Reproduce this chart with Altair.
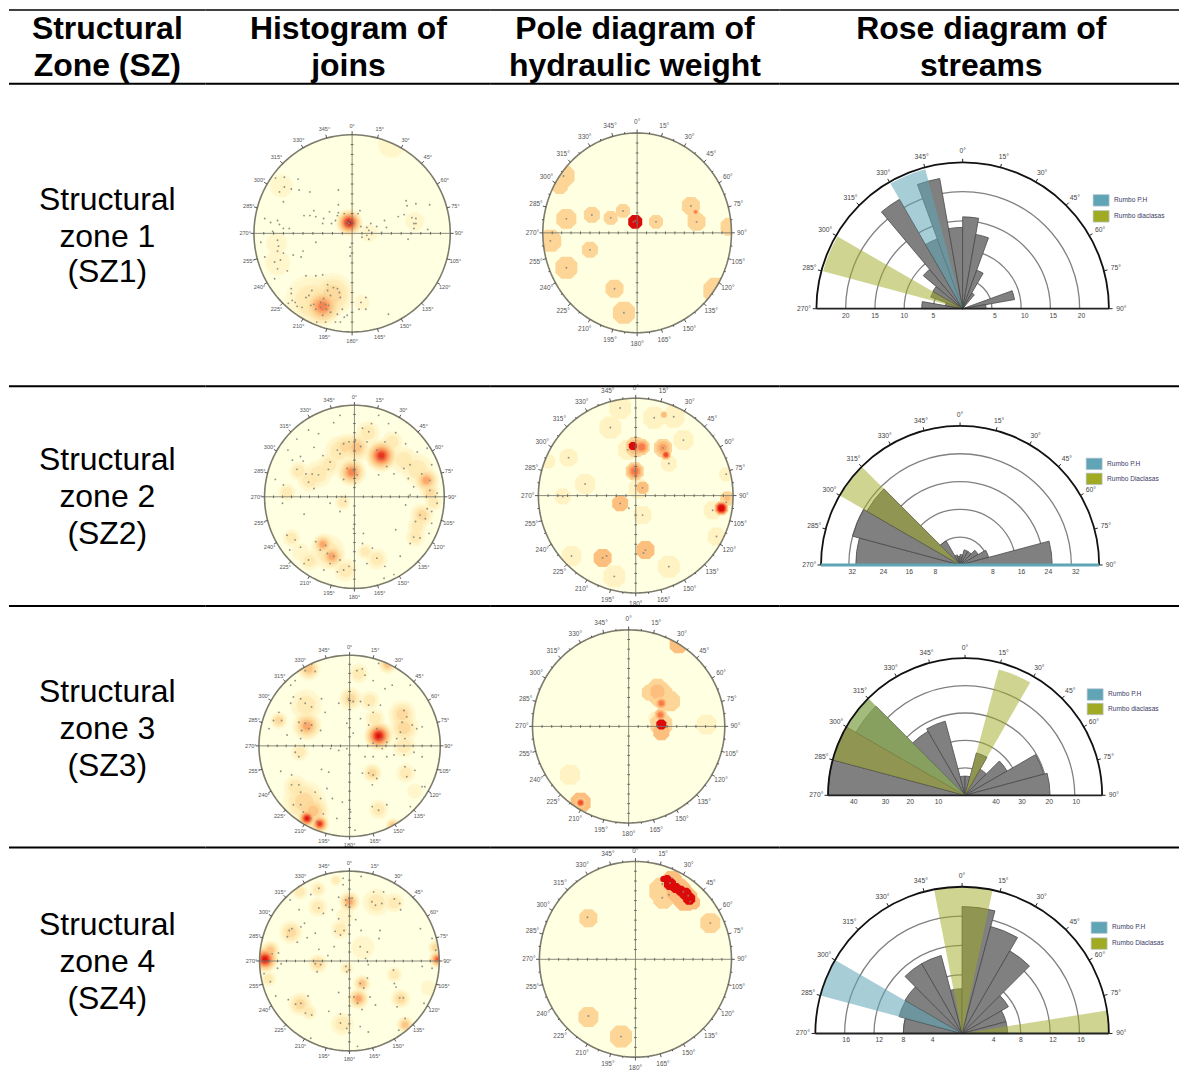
import math
import altair as alt
import pandas as pd

FONT = "Liberation Sans"
COL_X = [8, 205, 490, 780]
COL_W = [197, 285, 290, 400]
ROW_Y = [8, 83, 386, 606, 848]
ROW_H = [75, 303, 220, 242, 214]

HEADERS = [["Structural", "Zone (SZ)"], ["Histogram of", "joins"],
           ["Pole diagram of", "hydraulic weight"], ["Rose diagram of", "streams"]]
HEADER_CX = [106.5, 348, 635, 982]
HEADER_Y = [28, 65]
ROW_TEXT = [["Structural", "zone 1", "(SZ1)"], ["Structural", "zone 2", "(SZ2)"],
            ["Structural", "zone 3", "(SZ3)"], ["Structural", "zone 4", "(SZ4)"]]
ROW_TEXT_Y = [[199, 236, 272], [460, 497, 534], [692, 729, 766], [926, 963, 1000]]

RAMP = ["#fff3c4", "#fee7ad", "#fdd597", "#fcbf7e", "#fb9f63", "#f77a47", "#ee4f2e", "#e32a1a", "#dd0a0a"]
OCT = "M-1,-0.45L-0.45,-1L0.45,-1L1,-0.45L1,0.45L0.45,1L-0.45,1L-1,0.45Z"

# ---- stereonet data: (east %, north %) of the net radius ----
H1_DOTS = [(-69,57),(-78,56),(-55,55),(-69,47),(-62,45),(-54,44),(-74,42),(-43,42),(-14,44),(-70,32),(-49,18),(-43,18),(-39,23),(-37,17),(-89,15),(-83,11),(-76,13),(-74,9),(-70,5),(-64,5),(-81,2),(-23,22),(-14,29),(-14,21),(-30,10),(-29,15),(-21,10),(-17,13),(-15,18),(-8,20),(8,23),(6,20),(-6,12),(-3,10),(-5,9),(-2,13),(-4,11),
           (9,7),(15,6),(19,10),(25,7),(33,13),(35,6),(30,1),(17,3),(15,-2),(10,-4),(17,-6),(20,1),(55,33),(56,28),(65,30),(79,29),(47,17),(53,19),(61,16),(65,15),(63,10),(65,10),(63,5),(77,4),(57,-6),
           (-93,-9),(-76,-7),(-75,-13),(-76,-18),(-70,-20),(-89,-24),(-79,-29),(-73,-27),(-60,-22),(-52,-24),(-50,-18),(-37,-9),(-76,-36),(-66,-38),(-79,-46),(-47,-43),(-37,-43),(-30,-42),(-2,-14),(-2,-23),
           (-62,-56),(-62,-61),(-61,-68),(-65,-71),(-58,-70),(-56,-74),(-51,-75),(-47,-65),(-44,-63),(-41,-58),(-42,-73),(-39,-72),(-37,-77),(-32,-70),(-32,-75),(-29,-66),(-27,-72),(-26,-77),(-24,-73),(-22,-80),(-25,-52),(-25,-58),(-19,-55),(-15,-56),(-13,-60),(-22,-63),(-12,-65),(-10,-77),(-15,-82),(-30,-83),(-27,-90),(-17,-90),(-12,-90),(-8,-85),(-5,-83),(-36,-90),(14,-65),(7,-77),(14,-77),(9,-70),(37,-82)]
H1_BLOBS = [(-3,11,14,9),(-30,-74,20,6),(-42,-68,26,2),(-20,-62,22,3),(-35,-72,14,4),(-72,48,12,1),(-77,-10,11,1),(-76,-30,13,1),(64,12,10,1),(17,0,9,1),(10,-70,8,1),(40,90,14,1)]

H2_DOTS = [(-16,89),(-23,81),(-40,69),(-51,73),(-64,63),(-45,54),(-74,51),(-69,40),(-60,44),(-57,39),(-64,30),(-54,25),(-47,25),(-40,24),(-51,16),(-45,9),(-88,19),(-79,13),(-80,0),(-80,-7),(-35,45),(-27,38),(-29,30),(-19,51),(-12,58),(-6,60),(1,62),(7,55),(14,60),(9,75),(16,71),(19,80),(27,89),(38,80),(46,70),(34,60),(25,51),(29,42),(36,33),(-16,47),(-1,29),(3,24),(-8,31),(-12,19),(1,15),
           (27,24),(44,25),(55,31),(62,35),(57,58),(70,49),(81,53),(86,35),(75,25),(84,18),(84,7),(92,4),(66,11),(60,20),(62,2),(-14,0),(-10,-5),(-27,-7),(-16,-16),(-56,-19),(81,-13),(86,-16),(92,-7),(73,-20),(79,-24),(68,-27),(86,-29),(66,-44),(73,-45),(83,-40),(62,-51),(57,-9),(46,-36),
           (-75,-42),(-66,-47),(-72,-58),(-60,-55),(-51,-69),(-56,-73),(-43,-49),(-38,-58),(-32,-53),(-30,-62),(-23,-65),(-16,-69),(-27,-73),(-19,-82),(-12,-80),(-34,-80),(-6,-76),(9,-51),(20,-56),(25,-67),(14,-73),(34,-76),(44,-85),(33,-89),(51,-65),(-1,-35),(10,-40)]
H2_BLOBS = [(-3,27,15,6),(30,45,17,8),(2,54,15,4),(-10,55,13,3),(-17,50,15,2),(15,70,12,2),(-40,25,14,2),(-50,18,12,2),(-28,35,12,2),(-62,28,10,2),(-75,5,9,2),(-13,-6,8,2),(80,18,13,5),(84,5,10,3),(70,30,16,2),(55,40,14,2),(42,60,11,2),(88,-6,9,2),(75,-20,12,3),(70,-32,10,2),(68,-44,10,2),(-35,-52,11,5),(-25,-65,13,5),(-30,-60,18,2),(-50,-70,10,2),(-70,-45,9,2),(-60,-60,9,1),(-10,-80,12,2),(25,-68,11,2),(12,-60,8,2)]

H3_DOTS = [(-42,90),(-49,83),(-38,82),(-60,72),(-65,67),(-73,69),(-62,54),(-54,52),(-49,47),(-65,47),(-42,43),(-31,52),(-27,37),(-78,37),(-84,28),(-75,28),(-89,19),(-56,26),(-49,25),(-45,19),(-53,17),(-42,23),(-32,17),(-69,12),(-54,8),(-60,-7),(-56,-12),(-21,-3),(-12,-5),(-3,-3),
           (8,83),(14,85),(17,78),(32,91),(26,72),(39,63),(47,67),(67,67),(-12,47),(-1,52),(4,49),(12,49),(21,45),(26,37),(34,45),(-3,25),(12,30),(4,14),(21,23),(30,19),(34,8),(26,3),(41,4),(36,-3),(52,8),(56,15),(60,39),(63,32),(58,26),(69,23),(61,8),(74,19),(80,21),(71,-7),(80,-12),(60,-10),(49,-10),(17,-12),(26,-12),(41,-12),
           (21,-30),(26,-32),(30,-36),(14,-30),(25,-43),(61,-23),(63,-34),(72,-27),(80,-45),(83,-45),(25,-67),(32,-71),(41,-65),(67,-67),(1,-73),(6,-93),(-76,-28),(-64,-32),(-31,-26),(-23,-29),
           (-56,-43),(-64,-43),(-54,-51),(-62,-65),(-54,-65),(-51,-73),(-43,-80),(-38,-51),(-32,-58),(-25,-47),(-19,-58),(-14,-80),(-29,-75),(-36,-84),(-8,-62)]
H3_BLOBS = [(32,11,15,9),(-47,22,15,5),(-78,28,9,3),(-48,45,16,2),(60,20,15,3),(58,35,14,3),(60,0,12,2),(25,-30,10,3),(-47,-80,10,9),(-33,-86,10,8),(-50,-62,22,3),(-60,-45,12,2),(-45,85,12,4),(42,90,10,4),(48,-88,8,4),(1,52,12,3),(10,80,10,2),(62,-30,10,2),(32,-70,10,2),(-55,-7,9,2),(72,-50,8,1),(22,50,10,2),(28,30,10,2),(-40,-72,16,4)]

H4_DOTS = [(13,94),(-7,92),(-7,85),(-34,81),(-43,74),(-66,68),(-56,57),(-34,59),(-29,53),(-19,57),(-12,71),(-4,68),(3,70),(-4,62),(7,46),(-12,47),(25,66),(29,62),(36,64),(27,77),(38,77),(50,69),(56,64),(57,57),(79,36),
           (-67,34),(-64,36),(-69,27),(-54,38),(-50,42),(-47,26),(-38,31),(-58,21),(-16,33),(-6,34),(-10,29),(13,34),(34,34),(33,25),(-17,16),(-34,13),(-24,6),(20,10),(18,3),(12,16),(-86,8),(-79,9),(-80,-8),(-76,-3),(-95,-14),(-88,-23),(-38,-3),(-36,-12),(-32,-4),(-4,-6),(-3,-12),(21,-4),(49,-10),(81,-6),(92,25),(96,12),(92,-8),
           (-82,-39),(-68,-43),(-60,-48),(-54,-47),(-49,-58),(-42,-60),(-46,-39),(-23,-56),(-12,-35),(-10,-59),(-10,-69),(-3,-75),(12,-25),(16,-30),(20,-19),(5,-40),(9,-47),(14,-54),(23,-40),(29,-49),(12,-73),(21,-79),(50,-25),(56,-41),(60,-41),(52,-29),(53,-51),(62,-64),(55,-77),(83,-47),(-43,-86),(9,-95)]
H4_BLOBS = [(-94,2,14,9),(-88,12,10,4),(98,2,9,7),(96,15,8,3),(0,66,11,5),(-35,-3,10,3),(-65,32,12,3),(10,-42,11,5),(14,-25,9,4),(62,-71,9,4),(57,-42,10,3),(-55,-48,12,3),(-45,-57,8,2),(30,65,14,2),(50,65,10,2),(-10,35,10,2),(-8,-70,12,2),(-55,77,8,2),(-35,80,8,2),(-15,90,6,2),(15,15,12,1),(-35,60,10,2),(50,-15,8,2),(-3,-8,7,2),(-90,-20,8,2),(88,-30,8,1),(-5,50,9,1)]

P1_DOTS = [(-78,57),(-75,14),(-48,18),(-28,15),(-15,22),(-4,11),(-2,12),(20,11),(57,27),(63,11),(-92,-8),(-50,-17),(-75,-35),(-24,-56),(-14,-80)]
P1_BLOBS = [(-78,57,11,2),(-82,47,8,2),(-75,14,10,2),(-48,18,8,2),(-28,15,7,2),(-15,22,7,2),(20,11,7,2),(57,27,9,2),(60,18,6,2),(63,11,9,2),(-92,-8,11,2),(-50,-17,8,2),(-75,-35,11,2),(-24,-56,9,2),(-14,-80,11,2),(84,-58,13,2),(98,6,9,2),(-2,11,7,10),(62,21,3,6)]

P2_DOTS = [(-16,90),(-26,70),(19,80),(39,81),(49,57),(-69,39),(-52,12),(-75,-1),(93,22),(-66,-62),(-22,-83),(34,-73),(7,-20),(83,-42),(79,-15),(-34,-64),(-30,-62),(10,-56),(8,-59),(-16,-8),(7,8),(-1,25),(-8,47),(28,49),(34,33),(93,-7),(-7,-13)]
P2_BLOBS = [(-16,90,11,1),(-26,70,11,1),(19,80,11,1),(39,81,11,1),(49,57,10,1),(-69,39,9,1),(-52,12,10,1),(-75,-1,8,1),(-90,35,7,1),(93,22,7,1),(-66,-62,10,1),(-22,-83,11,1),(34,-73,11,1),(7,-20,9,1),(83,-42,9,1),(79,-15,9,1),(29,83,3,3),(-8,47,10,1),(34,33,8,1),(3,7,10,1),
            (-34,-64,9,3),(10,-56,9,3),(-16,-8,8,3),(7,8,6,3),(-1,25,9,6),(0,50,10,5),(-3,51,4,10),(6,50,8,6),(28,49,9,5),(31,42,5,7),(88,-13,7,9),(94,-3,7,4)]

P3_DOTS = []
P3_BLOBS = [(81,2,10,1),(33,33,12,2),(43,26,10,2),(22,35,8,2),(30,40,9,2),(30,36,7,3),(34,24,6,6),(33,12,6,6),(34,2,11,4),(34,2,5,10),(34,-6,8,3),(-61,-50,10,1),(-50,-79,10,3),(-50,-79,5,7),(52,85,9,3),(28,8,7,1)]

P4_DOTS = [(28,77),(38,83),(36,78),(28,63),(35,66),(50,69),(55,65),(57,59),(78,37),(-50,43),(-49,-58),(-15,-79)]
P4_BLOBS = [(28,70,13,2),(29,62,10,2),(38,80,10,3),(52,62,12,3),(45,70,12,3),(60,58,7,3),(78,37,10,2),(-49,42,9,2),(-49,-59,10,2),(-15,-79,11,2),(36,77,6,10),(33,82,4,10),(42,73,5,10),(47,70,5,10),(52,67,6,10),(56,62,6,10),(29,82,3,10)]

# net geometry on the page: centre x, centre y, radius x, radius y
NETS = {"H1": (351.7, 232.8, 98.3, 98.8), "P1": (637.2, 232.3, 94.5, 100),
        "H2": (354, 496.7, 90, 91.7), "P2": (635.8, 495.5, 97.5, 97.5),
        "H3": (349.2, 746.2, 90.8, 90.8), "P3": (628.7, 726.7, 96.3, 96.7),
        "H4": (349, 961.7, 90, 90), "P4": (635.5, 960, 96.2, 98)}

# ---- rose data: (from°, to°, radius) ----
R1_BARS = [(-90,-80,7),(-80,-70,3),(-70,-60,5.8),(-60,-50,5.9),(-50,-40,8.8),(-40,-30,21.6),(-30,-20,12.7),(-20,-10,22.6),(-10,0,13.9),(0,10,15.7),(10,20,12.9),(20,30,7),(30,40,3.1),(70,80,9),(80,90,4)]
R1_TEAL = [(-30,-15,24.7)]
R1_OLIVE = [(-75,-60,24.7)]
R2_BARS = [(-90,-75,30),(-75,-60,32),(-60,-45,31),(-45,-30,8),(-30,-15,3),(-15,0,2.5),(0,15,3),(15,30,4.5),(30,45,4.5),(45,60,6),(60,75,8.5),(75,90,26.5)]
R2_TEAL = []
R2_OLIVE = [(-60,-45,39.8)]
R3_BARS = [(-90,-75,50),(-75,-60,50),(-60,-45,46),(-45,-30,27),(-30,-15,28),(-15,0,7),(0,15,7),(15,30,16),(30,45,11),(45,60,17.7),(60,75,29.7),(75,90,31)]
R3_TEAL = [(-60,-45,50)]
R3_OLIVE = [(-75,-45,50),(15,30,47.5)]
R4_BARS = [(-90,-75,8),(-75,-60,8.9),(-60,-45,9),(-45,-30,11),(-30,-15,11),(-15,0,6.1),(0,15,17.3),(15,30,15.1),(30,45,13),(45,60,7.3),(60,75,6.2),(75,90,6.2)]
R4_TEAL = [(-75,-60,20)]
R4_OLIVE = [(-11,12,20),(81,90,20)]

ROSES = {
    "R1": dict(c=(963.3, 308.3), R=146.5, top=25, rings=[5, 10, 15, 20], bars=R1_BARS, teal=R1_TEAL, olive=R1_OLIVE,
               rl=[(-20,"20"),(-15,"15"),(-10,"10"),(-5,"5"),(5.5,"5"),(10.6,"10"),(15.5,"15"),(20.3,"20")],
               legend=("Rumbo P.H", "Rumbo diaclasas"), ly=(194, 210), lx=1094),
    "R2": dict(c=(960.7, 565), R=139.3, top=40, rings=[8, 16, 24, 32], bars=R2_BARS, teal=R2_TEAL, olive=R2_OLIVE,
               rl=[(-31,"32"),(-22,"24"),(-14.6,"16"),(-7.1,"8"),(9.4,"8"),(17.7,"16"),(25.4,"24"),(33.3,"32")],
               legend=("Rumbo P.H", "Rumbo Diaclasas"), ly=(458, 473), lx=1087),
    "R3": dict(c=(965.7, 795.7), R=137.3, top=50, rings=[10, 20, 30, 40], bars=R3_BARS, teal=R3_TEAL, olive=R3_OLIVE,
               rl=[(-40.6,"40"),(-29,"30"),(-20,"20"),(-9.7,"10"),(11.3,"40"),(20.8,"30"),(30.7,"20"),(40.6,"10")],
               legend=("Rumbo P.H", "Rumbo diaclasas"), ly=(689, 703.5), lx=1088),
    "R4": dict(c=(962.7, 1034.3), R=147, top=20, rings=[4, 8, 12, 16], bars=R4_BARS, teal=R4_TEAL, olive=R4_OLIVE,
               rl=[(-15.8,"16"),(-11.3,"12"),(-8,"8"),(-4,"4"),(4.3,"4"),(8,"8"),(12.4,"12"),(16.2,"16")],
               legend=("Rumbo P.H", "Rumbo Diaclasas"), ly=(922.5, 938.5), lx=1092),
}
TEAL = "#5fa5b5"
OLIVE = "#a0aa22"
BAR = "#808080"


def top_rule(W, y=0, width=2):
    return alt.Chart(pd.DataFrame({"a": [0]})).mark_rule(color="black", strokeWidth=width).encode(
        x=alt.value(0), x2=alt.value(W), y=alt.value(y))


def text_layer(rows, size, bold=False, color="black", align="center"):
    return alt.Chart(pd.DataFrame(rows)).mark_text(
        font=FONT, fontSize=size, fontWeight="bold" if bold else "normal", color=color, align=align, baseline="middle"
    ).encode(x=alt.X("px:Q", scale=None), y=alt.Y("py:Q", scale=None), text="t:N")


def blob_rows(blobs, hard):
    rows = []
    for (x, y, r, lvl) in blobs:
        if hard:
            if lvl == 10:  # saturated cell: flat red
                rows.append(dict(x=x, y=y, s=(2 * r) ** 2, c=RAMP[8], o=1.0, k=9))
                continue
            col = {1: 0, 2: 2, 3: 3}.get(min(lvl, 3))
            rows.append(dict(x=x, y=y, s=(2 * r) ** 2, c=RAMP[col] if lvl <= 3 else RAMP[2], o=1.0, k=0 if lvl < 3 else 1))
            for i in range(3, lvl):
                rr = r * (1 - 0.6 * (i - 2) / max(lvl - 3, 1))
                rows.append(dict(x=x, y=y, s=(2 * rr) ** 2, c=RAMP[i], o=1.0, k=i))
        else:
            for i in range(lvl):
                rr = r * (1 - i / (lvl + 0.6))
                for f, o in ((1.0, 0.45), (0.86, 0.55)):
                    rows.append(dict(x=x, y=y, s=(2 * rr * f) ** 2, c=RAMP[i], o=o, k=i + (f < 1) * 0.5))
    rows.sort(key=lambda d: d["k"])
    return pd.DataFrame(rows)


def disc_shape(q):
    pts = [(math.cos(math.radians(a)), q * math.sin(math.radians(a))) for a in range(0, 360, 4)]
    return "M" + "L".join(f"{x:.4f},{y:.4f}" for x, y in pts) + "Z"


def net_panel(key, col, row, dots, blobs, hard):
    W, H = COL_W[col], ROW_H[row]
    cx, cy, rx, ry = NETS[key]
    cx -= COL_X[col]
    cy -= ROW_Y[row]
    xs = alt.Scale(domain=[-cx / rx * 100, (W - cx) / rx * 100], nice=False, zero=False)
    ys = alt.Scale(domain=[-(H - cy) / ry * 100, cy / ry * 100], nice=False, zero=False)
    X = lambda f: alt.X(f, type="quantitative", scale=xs, axis=None)
    Y = lambda f: alt.Y(f, type="quantitative", scale=ys, axis=None)

    ang = list(range(0, 361, 2))
    circ = pd.DataFrame({"i": ang, "x": [100 * math.sin(math.radians(a)) for a in ang],
                         "y": [100 * math.cos(math.radians(a)) for a in ang]})
    grow = 1 + 8 / min(rx, ry)
    mask = circ.assign(x=circ.x * grow, y=circ.y * grow)

    disc = pd.DataFrame({"x": [0], "y": [0]})
    layers = [alt.Chart(disc).mark_point(filled=True, shape=disc_shape(ry / rx), size=(2 * rx) ** 2,
                                         color="#ffffe2", opacity=1, strokeWidth=0).encode(x=X("x"), y=Y("y"))]
    bd = blob_rows(blobs, hard)
    shape = OCT if hard else "circle"
    layers.append(alt.Chart(bd).mark_point(filled=True, shape=shape, strokeWidth=0).encode(
        x=X("x"), y=Y("y"), size=alt.Size("s:Q", scale=None), color=alt.Color("c:N", scale=None),
        opacity=alt.Opacity("o:Q", scale=None)))
    cross = pd.DataFrame({"a": [-100, 0], "b": [100, 0], "c": [0, -100], "d": [0, 100]})
    layers.append(alt.Chart(cross).mark_rule(color="#77776c", strokeWidth=1, opacity=0.85).encode(
        x=X("a"), x2="b:Q", y=Y("c"), y2="d:Q"))
    tk = [v for v in range(-90, 91, 10) if v != 0]
    tx = pd.DataFrame({"a": tk, "c": [-1.4] * len(tk), "d": [1.4] * len(tk)})
    ty = pd.DataFrame({"a": [-1.4] * len(tk), "b": [1.4] * len(tk), "c": tk})
    layers.append(alt.Chart(tx).mark_rule(color="#66665c", strokeWidth=1).encode(x=X("a"), y=Y("c"), y2="d:Q"))
    layers.append(alt.Chart(ty).mark_rule(color="#66665c", strokeWidth=1).encode(x=X("a"), x2="b:Q", y=Y("c")))
    if dots:
        dd = pd.DataFrame(dots, columns=["x", "y"])
        layers.append(alt.Chart(dd).mark_circle(color="#85857c", size=3.5, opacity=0.9).encode(x=X("x"), y=Y("y")))
    layers.append(alt.Chart(mask).mark_line(color="white", strokeWidth=16).encode(
        x=X("x"), y=Y("y"), order=alt.Order("i:Q")))
    layers.append(alt.Chart(circ).mark_line(color="#7c7b6c", strokeWidth=1.6).encode(
        x=X("x"), y=Y("y"), order=alt.Order("i:Q")))
    step = 7.5 if hard else 15
    ta = [a * step for a in range(int(360 / step))]
    ticks = pd.DataFrame({"x": [100 * math.sin(math.radians(a)) for a in ta],
                          "y": [100 * math.cos(math.radians(a)) for a in ta],
                          "x2": [(103.5 if a % 15 == 0 else 101.8) * math.sin(math.radians(a)) for a in ta],
                          "y2": [(103.5 if a % 15 == 0 else 101.8) * math.cos(math.radians(a)) for a in ta]})
    layers.append(alt.Chart(ticks).mark_rule(color="#444444", strokeWidth=0.9).encode(
        x=X("x"), y=Y("y"), x2="x2:Q", y2="y2:Q"))
    la = list(range(0, 360, 15))
    rlab = 111 if hard else 109
    labels = pd.DataFrame({"x": [rlab * math.sin(math.radians(a)) for a in la],
                           "y": [rlab * math.cos(math.radians(a)) for a in la],
                           "t": [f"{a}°" for a in la]})
    layers.append(alt.Chart(labels).mark_text(font=FONT, fontSize=6.5 if hard else 5.6, color="#555555",
                                              baseline="middle").encode(x=X("x"), y=Y("y"), text="t:N"))
    layers.append(top_rule(W))
    return alt.layer(*layers).properties(width=W, height=H)


def rose_panel(key, col, row):
    p = ROSES[key]
    W, H = COL_W[col], ROW_H[row]
    cx = p["c"][0] - COL_X[col]
    cy = p["c"][1] - ROW_Y[row]
    Rp, top = p["R"], p["top"]
    k = Rp / top
    xs = alt.Scale(domain=[-cx / k, (W - cx) / k], nice=False, zero=False)
    ys = alt.Scale(domain=[-(H - cy) / k, cy / k], nice=False, zero=False)
    X = lambda f: alt.X(f, type="quantitative", scale=xs, axis=None)
    Y = lambda f: alt.Y(f, type="quantitative", scale=ys, axis=None)
    th = alt.Scale(domain=[-90, 90], range=[-math.pi / 2, math.pi / 2], zero=False, nice=False)
    rs = alt.Scale(domain=[0, top], range=[0, Rp], zero=True, nice=False)

    def arcs(rows, **mk):
        df = pd.DataFrame(rows, columns=["a", "b", "r", "r0"])
        return alt.Chart(df).mark_arc(**mk).encode(
            theta=alt.Theta("a:Q", scale=th), theta2="b:Q",
            radius=alt.Radius("r:Q", scale=rs), radius2="r0:Q",
            x=alt.value(cx), y=alt.value(cy))

    layers = [arcs([(-90, 90, r, r) for r in p["rings"]], fillOpacity=0, stroke="#808080", strokeWidth=1.3)]
    layers.append(arcs([(a, b, r, 0) for a, b, r in p["bars"]], color=BAR, stroke="#4a4a4a", strokeWidth=0.8))
    if p["teal"]:
        layers.append(arcs([(a, b, r, 0) for a, b, r in p["teal"]], color=TEAL, opacity=0.55))
    if p["olive"]:
        layers.append(arcs([(a, b, r, 0) for a, b, r in p["olive"]], color=OLIVE, opacity=0.5))
    layers.append(arcs([(-90, 90, top, top)], fillOpacity=0, stroke="#111111", strokeWidth=1.8))

    base_col, base_w = (TEAL, 3) if key == "R2" else ("#222222", 1.8)
    layers.append(alt.Chart(pd.DataFrame({"a": [-top], "b": [top], "y": [0]})).mark_rule(
        color=base_col, strokeWidth=base_w).encode(x=X("a"), x2="b:Q", y=Y("y")))

    ta = list(range(-90, 91, 15))
    ticks = pd.DataFrame({"x": [top * math.sin(math.radians(a)) for a in ta],
                          "y": [top * math.cos(math.radians(a)) for a in ta],
                          "x2": [top * 1.025 * math.sin(math.radians(a)) for a in ta],
                          "y2": [top * 1.025 * math.cos(math.radians(a)) for a in ta]})
    layers.append(alt.Chart(ticks).mark_rule(color="#222222", strokeWidth=1).encode(
        x=X("x"), y=Y("y"), x2="x2:Q", y2="y2:Q"))
    labels = pd.DataFrame({"x": [top * 1.085 * math.sin(math.radians(a)) for a in ta],
                           "y": [top * 1.075 * math.cos(math.radians(a)) for a in ta],
                           "t": [f"{a % 360}°" for a in ta]})
    layers.append(alt.Chart(labels).mark_text(font=FONT, fontSize=6.8, color="#444444", baseline="middle").encode(
        x=X("x"), y=Y("y"), text="t:N"))
    rl = pd.DataFrame(p["rl"], columns=["x", "t"]).assign(y=0)
    layers.append(alt.Chart(rl).mark_text(font=FONT, fontSize=6.8, color="#444444", baseline="middle", dy=7).encode(
        x=X("x"), y=Y("y"), text="t:N"))

    lx = p["lx"] - COL_X[col]
    for yy, colr, txt in zip(p["ly"], (TEAL, OLIVE), p["legend"]):
        y0 = yy - ROW_Y[row]
        layers.append(alt.Chart(pd.DataFrame({"a": [0]})).mark_rect(color=colr, stroke="#b8c4d4", strokeWidth=0.7).encode(
            x=alt.value(lx), x2=alt.value(lx + 16), y=alt.value(y0), y2=alt.value(y0 + 11.5)))
        layers.append(text_layer([dict(px=lx + 21, py=y0 + 5.5, t=txt)], 6.6, color="#3a3a66", align="left"))
    layers.append(top_rule(W))
    return alt.layer(*layers).properties(width=W, height=H)


def text_panel(col, row, rows, size, bold=False, top_y=0):
    W, H = COL_W[col], ROW_H[row]
    layers = [text_layer(rows, size, bold=bold)]
    layers.append(top_rule(W, y=top_y, width=1.6 if row == 0 else 2))
    return alt.layer(*layers).properties(width=W, height=H)


panels = []
for c in range(4):
    rows = [dict(px=HEADER_CX[c] - COL_X[c], py=HEADER_Y[i] - ROW_Y[0], t=HEADERS[c][i]) for i in range(2)]
    panels.append(text_panel(c, 0, rows, 32, bold=True, top_y=1))

NET_DATA = [("H1", H1_DOTS, H1_BLOBS, "P1", P1_DOTS, P1_BLOBS, "R1"),
            ("H2", H2_DOTS, H2_BLOBS, "P2", P2_DOTS, P2_BLOBS, "R2"),
            ("H3", H3_DOTS, H3_BLOBS, "P3", P3_DOTS, P3_BLOBS, "R3"),
            ("H4", H4_DOTS, H4_BLOBS, "P4", P4_DOTS, P4_BLOBS, "R4")]
for i, (hk, hd, hb, pk, pd_, pb, rk) in enumerate(NET_DATA):
    r = i + 1
    rows = [dict(px=106.5 - COL_X[0], py=ROW_TEXT_Y[i][j] - ROW_Y[r], t=ROW_TEXT[i][j]) for j in range(3)]
    panels += [text_panel(0, r, rows, 32),
               net_panel(hk, 1, r, hd, hb, False),
               net_panel(pk, 2, r, pd_, pb, True),
               rose_panel(rk, 3, r)]

chart = alt.concat(*panels, columns=4, spacing=0, bounds="flush", align="each").properties(
    padding=0).configure_view(stroke=None)
chart.save("out.html", embed_options={"renderer": "svg", "actions": False})
